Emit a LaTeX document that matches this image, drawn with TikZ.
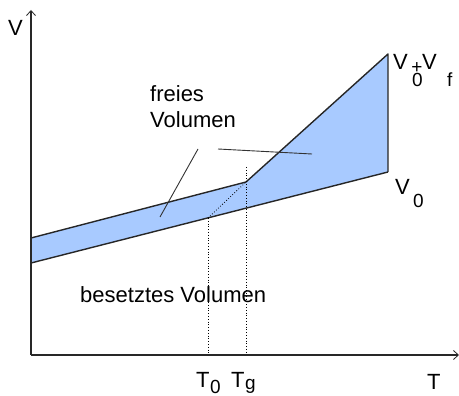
\documentclass[tikz,border=0pt]{standalone}
\usepackage{fontspec}
\setmainfont{Liberation Sans}
\usetikzlibrary{arrows.meta}
\definecolor{freeblue}{RGB}{168,202,255}
\definecolor{axisgray}{RGB}{40,40,40}
\begin{document}
\begin{tikzpicture}[x=1pt,y=-1pt,
  axisline/.style={draw=axisgray,line width=1.1pt,-{Straight Barb[length=5pt,width=9pt,line width=0.8pt]}},
  curve/.style={draw=black!85,line width=1.4pt,line join=round},
  pointer/.style={draw=black!80,line width=0.9pt},
  guide/.style={draw=black,line width=0.8pt,dotted},
  bigtext/.style={font=\fontsize{22}{26}\selectfont,inner sep=0pt,anchor=base west},
  axtext/.style={font=\fontsize{22}{24}\selectfont,inner sep=0pt,anchor=base west},
  subtext/.style={font=\fontsize{19}{22}\selectfont,inner sep=0pt,anchor=base west}]
\useasboundingbox (0,0) rectangle (459,396);
% key points
\coordinate (O) at (31,355);
\coordinate (ytop) at (31,10);
\coordinate (xend) at (459,355);
\coordinate (ul) at (31,238);
\coordinate (ll) at (31,263);
\coordinate (kink) at (246,182);
\coordinate (ur) at (388,54);
\coordinate (lr) at (388,172);
\coordinate (t0pt) at (208,218);
\coordinate (t0ax) at (208,355);
\coordinate (tgtop) at (246,167);
\coordinate (tgax) at (246,355);
\coordinate (p1a) at (198,149);
\coordinate (p1b) at (160,217);
\coordinate (p2a) at (218,149);
\coordinate (p2b) at (312,154);
% fill
\fill[freeblue] (ul) -- (kink) -- (ur) -- (lr) -- (ll) -- cycle;
% curves
\draw[curve] (ul) -- (kink) -- (ur) -- (lr);
\draw[curve] (ll) -- (lr);
% guides
\draw[guide] (tgtop) -- (tgax);
\draw[guide] (t0pt) -- (t0ax);
\draw[guide] (t0pt) -- (kink);
% pointers
\draw[pointer] (p1a) -- (p1b);
\draw[pointer] (p2a) -- (p2b);
% axes
\draw[axisline] (O) -- (ytop);
\draw[axisline] (O) -- (xend);
% texts
\node[bigtext] (fr) at (150,102) {freies};
\node[bigtext] (vol) at (150,128) {Volumen};
\node[bigtext] (bes) at (80,302) {besetztes Volumen};
\node[axtext] (vlab) at (8,36) {V};
\node[axtext] (vf1) at (393,70) {V};
\node[subtext] (vf2) at (412,87) {0};
\node[subtext,anchor=center] (vf3) at (417,68) {+};
\node[axtext] (vf4) at (422,70) {V};
\node[subtext] (vf5) at (447,87) {f};
\node[axtext] (v01) at (395,195) {V};
\node[subtext] (v02) at (413,208) {0};
\node[axtext] (t01) at (196,388) {T};
\node[subtext] (t02) at (210,393) {0};
\node[axtext] (tg1) at (231,388) {T};
\node[subtext] (tg2) at (245,390) {g};
\node[axtext] (tlab) at (427,390) {T};
\end{tikzpicture}
\end{document}
